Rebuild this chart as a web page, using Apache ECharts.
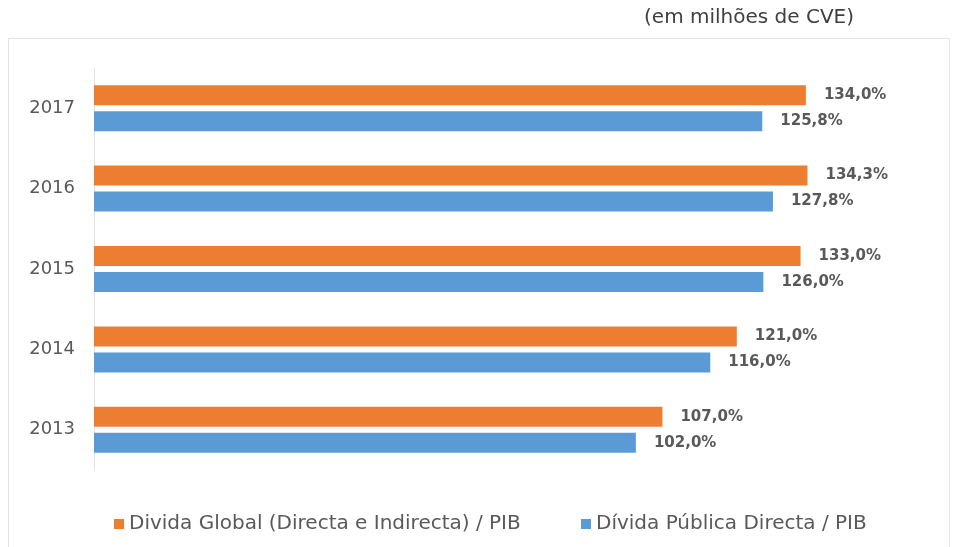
<!DOCTYPE html>
<html><head><meta charset="utf-8">
<script src="https://cdn.jsdelivr.net/npm/echarts@6/dist/echarts.min.js"></script>
<style>html,body{margin:0;padding:0;background:#fff}#c{width:957px;height:547px}</style>
</head><body><div id="c"></div>
<script>
const years = ['2013','2014','2015','2016','2017'];
const globalDebt = [107.0, 121.0, 133.0, 134.3, 134.0];
const publicDebt = [102.0, 116.0, 126.0, 127.8, 125.8];
const seriesNames = ['Divida Global (Directa e Indirecta) / PIB', 'Dívida Pública Directa / PIB'];
const unitNote = '(em milhões de CVE)';

const FONT = 'DejaVu Sans';
const chart = echarts.init(document.getElementById('c'));
const fmt = p => p.value.toFixed(1).replace('.', ',') + '%';
const lbl = {show:true, position:'right', distance:18, formatter:fmt, color:'#595959', fontSize:15, fontWeight:'bold', fontFamily:FONT};
const legendText = {color:'#595959', fontSize:20, fontFamily:FONT};
chart.setOption({
  animation:false,
  title:{text:unitNote, right:98, top:3, textStyle:{color:'#404040', fontSize:20, fontWeight:'normal', fontFamily:FONT}},
  graphic:[{type:'rect', shape:{x:8.5, y:38.5, width:941, height:520}, style:{fill:'none', stroke:'#e4e4e4', lineWidth:1}, z:-1}],
  legend:[
    {top:509, left:109, itemWidth:10, itemHeight:10, itemGap:4, icon:'rect', textStyle:legendText, data:[seriesNames[0]]},
    {top:509, left:576, itemWidth:10, itemHeight:10, itemGap:4, icon:'rect', textStyle:legendText, data:[seriesNames[1]]}
  ],
  grid:{left:94, right:13, top:68, bottom:77},
  xAxis:{type:'value', min:0, max:160, show:false},
  yAxis:{type:'category', data:years,
    axisLine:{show:true, lineStyle:{color:'#e0e0e0'}}, axisTick:{show:false},
    axisLabel:{color:'#595959', fontSize:18, margin:19, fontFamily:FONT}},
  series:[
    {name:seriesNames[0], type:'bar', data:globalDebt, barWidth:20, barGap:'30%', itemStyle:{color:'#ED7D31'}, label:lbl},
    {name:seriesNames[1], type:'bar', data:publicDebt, barWidth:20, barGap:'30%', itemStyle:{color:'#5B9BD5'}, label:lbl}
  ]
});
</script></body></html>
